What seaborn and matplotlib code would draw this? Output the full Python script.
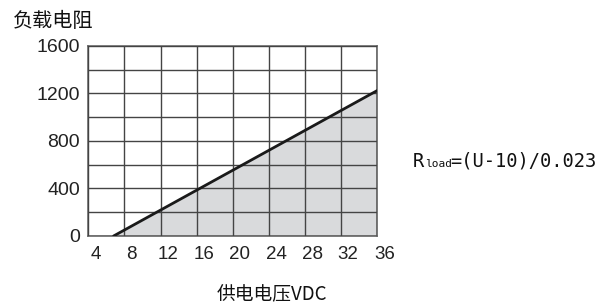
import matplotlib
matplotlib.use("Agg")
import matplotlib.pyplot as plt
import matplotlib.transforms as mtransforms
import numpy as np
import pandas as pd
import seaborn as sns

# line (supply voltage V, load resistance ohm)
voltage = [6.8, 36]
resistance = [0, 1225]

x_ticks = [4, 8, 12, 16, 20, 24, 28, 32, 36]
y_ticks = [0, 400, 800, 1200, 1600]
y_minor = [200, 600, 1000, 1400]

y_title = "负载电阻"
x_title = "供电电压VDC"

sns.set_theme(style="white")
plt.rcParams['font.family'] = ['Liberation Sans', 'Noto Sans CJK SC', 'DejaVu Sans']

df = pd.DataFrame({"U": voltage, "R": resistance})

fig = plt.figure(figsize=(6.05, 3.06), dpi=100)
ax = fig.add_axes([0.146, 0.2288, 0.4777, 0.621])

ax.fill_between(df["U"], df["R"], 0, color="#d9dadc", lw=0, zorder=1)
sns.lineplot(data=df, x="U", y="R", ax=ax, color="#1a1a1a", lw=2, zorder=4)

ax.set_xlim(4, 36)
ax.set_ylim(0, 1600)
ax.set_xticks(x_ticks)
ax.set_yticks(y_ticks)
ax.set_yticks(y_minor, minor=True)
ax.grid(True, which="both", color="#444444", lw=1.0, zorder=2)
ax.set_axisbelow(False)
for s in ax.spines.values():
    s.set_color("#666666")
    s.set_linewidth(1.2)
ax.tick_params(axis="both", which="both", length=0, colors="#222222")
ax.tick_params(axis="x", labelsize=13.5, pad=7)
ax.tick_params(axis="y", labelsize=14, pad=6)
ax.set_xlabel("")
ax.set_ylabel("")

# tick labels in the original sit a bit to the right of their grid lines
shift = mtransforms.ScaledTranslation(7 / 100, 0, fig.dpi_scale_trans)
for lab in ax.get_xticklabels():
    lab.set_transform(lab.get_transform() + shift)

fig.text(0.0215, 0.931, y_title, fontsize=14.5, ha="left", va="center",
         family=['Noto Sans CJK SC', 'DejaVu Sans'], color="#111111")
fig.text(0.4496, 0.038, x_title, fontsize=13.5, ha="center", va="center",
         family=['Noto Sans CJK SC', 'DejaVu Sans'], color="#111111")

# formula
fig.text(0.6826, 0.455, "R", fontsize=13.5, family="DejaVu Sans Mono",
         ha="left", va="baseline", color="#111111")
fig.text(0.7025, 0.455, "load", fontsize=8, family="DejaVu Sans Mono",
         ha="left", va="baseline", color="#111111")
fig.text(0.745, 0.455, "=(U-10)/0.023", fontsize=13.5, family="DejaVu Sans Mono",
         ha="left", va="baseline", color="#111111")

fig.savefig("out.png", dpi=100)
